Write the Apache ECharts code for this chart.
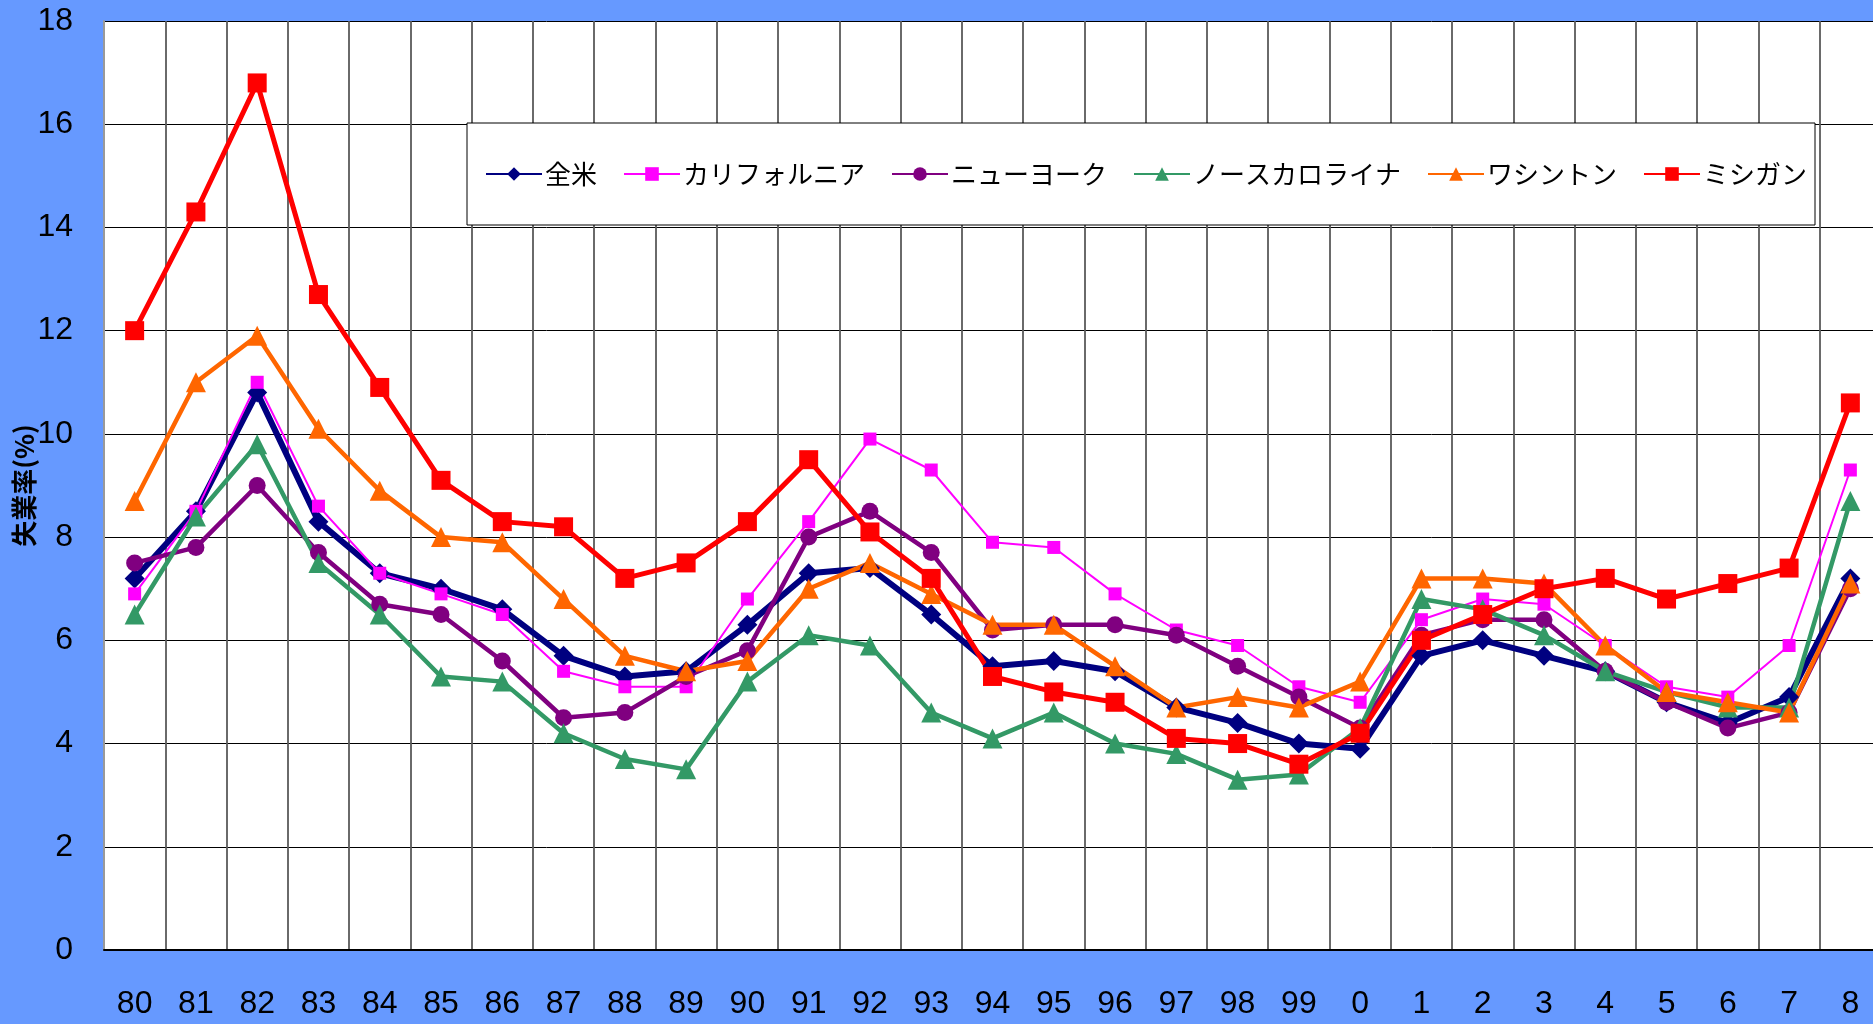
<!DOCTYPE html>
<html>
<head>
<meta charset="utf-8">
<script src="https://cdn.jsdelivr.net/npm/echarts@6/dist/echarts.min.js"></script>
<style>
  html, body { margin: 0; padding: 0; background: #6699ff; }
  #chart { width: 1873px; height: 1024px; }
</style>
</head>
<body>
<div id="chart"></div>
<script>
// 年（80〜99, 0〜8）
const years = ['80', '81', '82', '83', '84', '85', '86', '87', '88', '89',
  '90', '91', '92', '93', '94', '95', '96', '97', '98', '99',
  '0', '1', '2', '3', '4', '5', '6', '7', '8']

const zenbei = [7.2, 8.5, 10.8, 8.3, 7.3, 7.0, 6.6, 5.7, 5.3, 5.4,
  6.3, 7.3, 7.4, 6.5, 5.5, 5.6, 5.4, 4.7, 4.4, 4.0,
  3.9, 5.7, 6.0, 5.7, 5.4, 4.8, 4.4, 4.9, 7.2]
const california = [6.9, 8.5, 11.0, 8.6, 7.3, 6.9, 6.5, 5.4, 5.1, 5.1,
  6.8, 8.3, 9.9, 9.3, 7.9, 7.8, 6.9, 6.2, 5.9, 5.1,
  4.8, 6.4, 6.8, 6.7, 5.9, 5.1, 4.9, 5.9, 9.3]
const newyork = [7.5, 7.8, 9.0, 7.7, 6.7, 6.5, 5.6, 4.5, 4.6, 5.3,
  5.8, 8.0, 8.5, 7.7, 6.2, 6.3, 6.3, 6.1, 5.5, 4.9,
  4.3, 6.1, 6.4, 6.4, 5.4, 4.8, 4.3, 4.6, 7.0]
const northCarolina = [6.5, 8.4, 9.8, 7.5, 6.5, 5.3, 5.2, 4.2, 3.7, 3.5,
  5.2, 6.1, 5.9, 4.6, 4.1, 4.6, 4.0, 3.8, 3.3, 3.4,
  4.3, 6.8, 6.6, 6.1, 5.4, 5.0, 4.7, 4.7, 8.7]
const washington = [8.7, 11.0, 11.9, 10.1, 8.9, 8.0, 7.9, 6.8, 5.7, 5.4,
  5.6, 7.0, 7.5, 6.9, 6.3, 6.3, 5.5, 4.7, 4.9, 4.7,
  5.2, 7.2, 7.2, 7.1, 5.9, 5.0, 4.8, 4.6, 7.1]
const michigan = [12.0, 14.3, 16.8, 12.7, 10.9, 9.1, 8.3, 8.2, 7.2, 7.5,
  8.3, 9.5, 8.1, 7.2, 5.3, 5.0, 4.8, 4.1, 4.0, 3.6,
  4.2, 6.0, 6.5, 7.0, 7.2, 6.8, 7.1, 7.4, 10.6]

const labelFont = "'Liberation Sans', Arial, sans-serif"
const jpFont = "'Noto Sans CJK JP', sans-serif"

const makeSeries = (name, data, color, symbol, symbolSize, width) => ({
  name: name,
  type: 'line',
  data: data,
  symbol: symbol,
  symbolSize: symbolSize,
  lineStyle: { color: color, width: width },
  itemStyle: { color: color },
  animation: false
})

const chart = echarts.init(document.getElementById('chart'))
chart.setOption({
  backgroundColor: '#6699ff',
  grid: {
    left: 104,
    top: 21,
    right: -8,
    bottom: 74,
    outerBoundsMode: 'none',
    show: true,
    backgroundColor: '#ffffff',
    borderWidth: 0
  },
  legend: {
    left: 467,
    top: 123,
    padding: [38, 8, 38, 18],
    itemGap: 26,
    itemWidth: 56,
    itemHeight: 17,
    backgroundColor: '#ffffff',
    borderColor: '#000000',
    borderWidth: 1,
    textStyle: { fontFamily: jpFont, fontSize: 26, color: '#000000', padding: [0, 0, 0, -2] },
    data: ['全米', 'カリフォルニア', 'ニューヨーク', 'ノースカロライナ', 'ワシントン', 'ミシガン']
  },
  xAxis: {
    type: 'category',
    data: years,
    boundaryGap: true,
    axisLine: { lineStyle: { color: '#000000', width: 2 } },
    axisTick: { show: false },
    axisLabel: { color: '#000000', fontSize: 32, fontFamily: labelFont, margin: 38 },
    splitLine: { show: true, lineStyle: { color: '#5a5a5a', width: 1.8 } }
  },
  yAxis: {
    type: 'value',
    min: 0,
    max: 18,
    interval: 2,
    name: '失業率(%)',
    nameLocation: 'middle',
    nameRotate: 90,
    nameGap: 67,
    nameMoveOverlap: false,
    nameTextStyle: { fontFamily: jpFont, fontSize: 26, fontWeight: 'bold', color: '#000000' },
    axisLine: { show: true, lineStyle: { color: '#999999', width: 2 } },
    axisTick: { show: false },
    axisLabel: { color: '#000000', fontSize: 32, fontFamily: labelFont, margin: 31 },
    splitLine: { show: true, lineStyle: { color: '#000000', width: 1 } }
  },
  series: [
    makeSeries('全米', zenbei, '#000080', 'diamond', 20, 6),
    makeSeries('カリフォルニア', california, '#ff00ff', 'rect', 13, 2),
    makeSeries('ニューヨーク', newyork, '#800080', 'circle', 17, 4.5),
    makeSeries('ノースカロライナ', northCarolina, '#339966', 'triangle', 20, 4.5),
    makeSeries('ワシントン', washington, '#ff6600', 'triangle', 20, 4.5),
    makeSeries('ミシガン', michigan, '#ff0000', 'rect', 19, 5)
  ]
})
</script>
</body>
</html>
